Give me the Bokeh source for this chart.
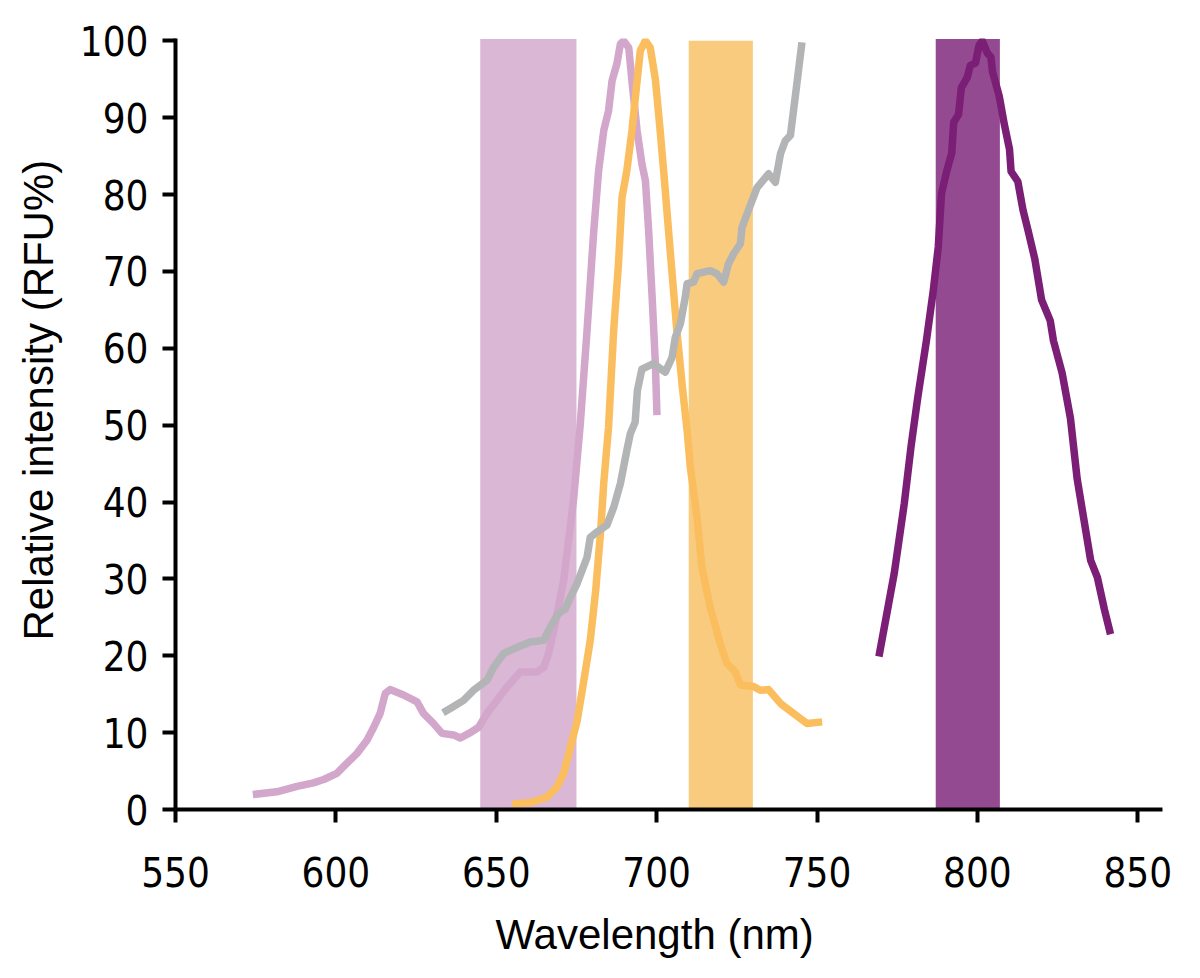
from bokeh.plotting import figure
from bokeh.models import Range1d, FixedTicker, Title
from bokeh.embed import file_html
from bokeh.resources import INLINE

# ---- data ----
x_ticks = [550, 600, 650, 700, 750, 800, 850]
y_ticks = [0, 10, 20, 30, 40, 50, 60, 70, 80, 90, 100]

band_left = [645, 710, 787]
band_right = [675, 730, 807]
band_top = [100.25, 100.0, 100.25]
band_colors = ["#DAB7D5", "#F9CB7E", "#944A90"]

pink_x = [574.1, 581.6, 587.9, 593.0, 596.2, 600.3, 603.4, 606.6, 609.7, 611.8, 613.8, 615.4,
          616.9, 621.1, 625.3, 627.3, 630.4, 633.1, 636.7, 638.8, 641.9, 644.5, 647.1, 650.2,
          653.3, 657.5, 662.7, 664.8, 666.3, 667.9, 669.4, 671.0, 674.1, 676.2, 678.3, 680.4,
          681.9, 683.5, 685.0, 686.1, 687.6, 688.7, 689.7, 691.3, 692.3, 693.9, 695.4, 696.5,
          697.5, 698.6, 699.6, 700.1]
pink_y = [1.95, 2.3, 3.0, 3.46, 3.9, 4.7, 6.0, 7.3, 9.0, 10.7, 12.5, 15.1,
          15.6, 14.9, 14.0, 12.5, 11.2, 9.9, 9.7, 9.3, 10.0, 10.7, 12.5, 14.2,
          15.9, 17.9, 17.9, 18.5, 20.3, 23.3, 26.3, 29.8, 40.3, 50.2, 62.3, 75.3,
          83.1, 88.3, 90.9, 94.8, 97.0, 99.6, 100.0, 99.1, 94.8, 88.3, 84.0, 81.8,
          75.3, 66.6, 58.0, 51.3]

orange_x = [654.9, 660.6, 665.8, 668.9, 671.0, 673.1, 675.2, 677.2, 679.3, 681.0, 682.5, 683.5,
            685.0, 686.6, 688.1, 689.2, 690.7, 692.3, 693.9, 694.9, 696.5, 698.0, 699.6, 701.1,
            702.4, 703.7, 705.0, 706.3, 708.0, 709.5, 710.5, 712.6, 714.1, 716.7, 719.8, 721.9,
            724.5, 726.1, 730.2, 732.3, 734.9, 738.6, 742.7, 746.9, 751.6]
orange_y = [0.7, 0.9, 1.6, 2.9, 4.7, 8.1, 11.5, 16.5, 22.0, 28.5, 36.0, 42.4,
            49.7, 62.3, 71.0, 79.6, 83.1, 88.3, 94.8, 98.7, 100.0, 99.1, 95.0, 88.3,
            82.0, 75.3, 68.8, 62.3, 55.0, 49.3, 44.5, 38.0, 31.5, 26.3, 21.6, 19.0,
            17.9, 16.2, 16.0, 15.5, 15.6, 13.8, 12.5, 11.2, 11.4]

gray_x = [633.4, 636.7, 639.8, 642.9, 647.1, 649.2, 652.3, 656.5, 660.6, 664.8, 666.8, 669.4,
          671.5, 673.1, 675.2, 678.3, 679.3, 681.4, 684.5, 686.6, 688.7, 690.7, 691.8, 693.3,
          694.0, 695.4, 699.0, 702.7, 704.8, 705.8, 707.4, 708.9, 709.5, 711.5, 712.6, 716.7,
          718.8, 720.9, 722.4, 724.0, 726.1, 726.6, 728.2, 731.3, 734.9, 737.0, 738.6, 740.1,
          741.7, 743.2, 745.3]
gray_y = [12.6, 13.4, 14.2, 15.5, 16.8, 18.5, 20.3, 21.1, 21.8, 22.0, 23.7, 25.5,
          26.1, 27.6, 29.4, 32.8, 35.4, 36.1, 37.0, 39.3, 42.4, 46.7, 48.9, 50.4,
          54.5, 57.3, 58.0, 56.9, 58.8, 61.4, 63.2, 66.6, 68.4, 68.6, 69.7, 70.1,
          69.7, 68.6, 71.0, 72.3, 73.6, 75.7, 77.5, 80.9, 82.7, 81.6, 85.3, 87.0,
          87.7, 92.7, 99.8]

purple_x = [769.3, 774.1, 777.2, 779.3, 781.4, 784.1, 786.2, 787.8, 788.8, 790.4, 792.0, 792.6,
            794.1, 795.0, 796.8, 797.8, 799.4, 800.5, 801.5, 803.1, 804.2, 804.7, 806.8, 808.4,
            810.0, 810.5, 812.6, 814.2, 815.8, 817.9, 820.0, 822.7, 823.7, 826.4, 829.0, 831.1,
            833.2, 835.3, 837.4, 839.6, 841.5]
purple_y = [19.9, 30.8, 39.8, 47.2, 53.6, 61.0, 67.4, 73.2, 80.1, 83.0, 85.4, 89.4,
            90.4, 93.9, 95.2, 96.8, 97.1, 99.4, 100.0, 98.4, 97.9, 96.0, 92.8, 89.1,
            85.9, 83.0, 81.7, 78.0, 75.3, 71.6, 66.3, 63.6, 61.0, 56.8, 50.9, 43.0,
            37.7, 32.4, 30.2, 26.0, 22.8]

x_label = "Wavelength (nm)"
y_label = "Relative intensity (RFU%)"

# ---- figure ----
p = figure(width=1184, height=978, output_backend="svg", toolbar_location=None,
           x_range=Range1d(550, 857.7), y_range=Range1d(0, 100.3),
           min_border_left=175, min_border_right=22, min_border_top=38, min_border_bottom=169)
p.outline_line_color = None
p.grid.visible = False
p.background_fill_color = "white"
p.border_fill_color = "white"

p.quad(left=band_left, right=band_right, bottom=0, top=band_top,
       fill_color=band_colors, line_color=None)

lw = 7.5
p.line(pink_x, pink_y, line_color="#D3A6CB", line_width=lw, line_join="round", line_cap="butt")
p.line(orange_x, orange_y, line_color="#FBBE5E", line_width=lw, line_join="round", line_cap="butt")
p.line(gray_x, gray_y, line_color="#B3B4B5", line_width=lw, line_join="round", line_cap="butt")
p.line(purple_x, purple_y, line_color="#7B1E76", line_width=lw, line_join="round", line_cap="butt")

tick_font = "DejaVu Sans Condensed"
label_font = "Liberation Sans"

for ax, ticks in ((p.xaxis[0], x_ticks), (p.yaxis[0], y_ticks)):
    ax.ticker = FixedTicker(ticks=ticks)
    ax.axis_line_width = 4
    ax.axis_line_color = "black"
    ax.major_tick_line_width = 4
    ax.major_tick_line_color = "black"
    ax.major_tick_out = 13
    ax.major_tick_in = 0
    ax.minor_tick_line_color = None
    ax.major_label_text_font = tick_font
    ax.major_label_text_font_size = "40px"
    ax.major_label_text_color = "black"

p.xaxis[0].major_label_standoff = 34
p.yaxis[0].major_label_standoff = 14

# axis titles as side titles, positioned like the reference
p.add_layout(Title(text=x_label, align="left", offset=320, standoff=38,
                   vertical_align="bottom",
                   text_font=label_font, text_font_size="42px",
                   text_font_style="normal", text_color="black"), "below")
p.add_layout(Title(text=y_label, align="left", offset=169, standoff=26,
                   vertical_align="top",
                   text_font=label_font, text_font_size="42px",
                   text_font_style="normal", text_color="black"), "left")

open("out.html", "w").write(file_html(p, INLINE))
